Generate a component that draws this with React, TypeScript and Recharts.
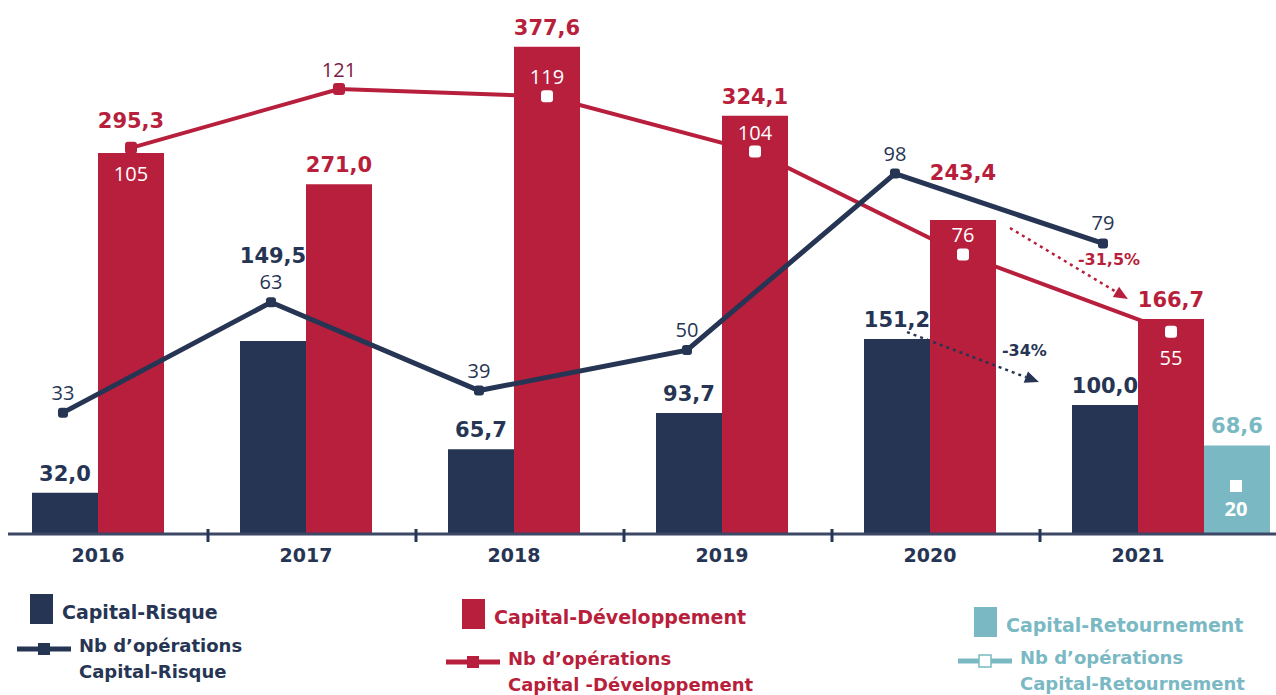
import React from 'react';
import { ComposedChart, Bar, Line, XAxis, YAxis, LabelList, ReferenceLine } from 'recharts';

// ---------- data ----------
const years = ['2016', '2017', '2018', '2019', '2020', '2021'];
const capitalRisque = [32.0, 149.5, 65.7, 93.7, 151.2, 100.0];
const capitalDeveloppement = [295.3, 271.0, 377.6, 324.1, 243.4, 166.7];
const capitalRetournement = [null, null, null, null, null, 68.6];
const nbOpsRisque = [33, 63, 39, 50, 98, 79];
const nbOpsDeveloppement = [105, 121, 119, 104, 76, 55];
const nbOpsRetournement = [null, null, null, null, null, 20];

// evolution annotations (x in category index units, y in number of operations)
const evolutions = [
  { label: '-31,5%', x1: 4.226, y1: 83.2, x2: 4.793, y2: 63.9 },
  { label: '-34%', x1: 3.731, y1: 54.9, x2: 4.365, y2: 41.3 },
];

// ---------- styles ----------
const NAVY = '#263553';
const CRIMSON = '#b81f3c';
const DARK_CRIMSON = '#7d1a45';
const TEAL = '#7ab9c3';
const AXIS = '#3c4766';
const FONT = '"DejaVu Sans", sans-serif';
const NUM_FONT = '"Open Sans", sans-serif';

const BAR = 66;
const crLabelLift = [0, 66, 0, 0, 0, 0];
const cdLabelLift = [13, 0, 0, 0, 28, 0];
const cdCountBelow = [true, false, false, false, false, true];
const cdInsideBar = [true, false, true, true, true, true];
const cdDotInside = [false, false, true, true, true, true];

const data = years.map((year, i) => ({
  year,
  idx: i,
  cr: capitalRisque[i],
  cd: capitalDeveloppement[i],
  ret: capitalRetournement[i],
  nbCr: nbOpsRisque[i],
  nbCd: nbOpsDeveloppement[i],
  nbRet: nbOpsRetournement[i],
}));

const fmt = (v: number) => v.toFixed(1).replace('.', ',');

const amountLabel = (color: string, lift: number[] | null) => (props: any) => {
  const { x, y, width, value, index } = props;
  if (value == null) return null;
  const extra = lift ? lift[index] || 0 : 0;
  return (
    <text
      key={`al-${index}`}
      x={x + width / 2}
      y={y - 12 - extra}
      textAnchor="middle"
      fill={color}
      fontFamily={FONT}
      fontWeight={700}
      fontSize={21}
    >
      {fmt(Number(value))}
    </text>
  );
};

const crCountLabel = (props: any) => {
  const { x, y, value, index } = props;
  if (value == null) return null;
  return (
    <text key={`cl-${index}`} x={x} y={y - 13} textAnchor="middle" fill={NAVY} fontFamily={NUM_FONT} fontSize={20}>
      {value}
    </text>
  );
};

const cdCountLabel = (props: any) => {
  const { x, y, value, index } = props;
  if (value == null) return null;
  const below = cdCountBelow[index];
  const fill = cdInsideBar[index] ? '#ffffff' : DARK_CRIMSON;
  return (
    <text
      key={`dl-${index}`}
      x={x}
      y={below ? y + 33 : y - 12}
      textAnchor="middle"
      fill={fill}
      fontFamily={NUM_FONT}
      fontSize={20}
    >
      {value}
    </text>
  );
};

const retCountLabel = (props: any) => {
  const { x, y, value, index } = props;
  if (value == null) return null;
  return (
    <text key={`rl-${index}`} x={x} y={y + 30} textAnchor="middle" fill="#ffffff" fontFamily={NUM_FONT} fontWeight={700} fontSize={20}>
      {value}
    </text>
  );
};

const crDot = (props: any) => {
  const { cx, cy, index } = props;
  if (cx == null || cy == null) return <g key={`crd-${index}`} />;
  return <rect key={`crd-${index}`} x={cx - 5} y={cy - 5} width={10} height={10} rx={3} fill={NAVY} />;
};

const cdDot = (props: any) => {
  const { cx, cy, index } = props;
  if (cx == null || cy == null) return <g key={`cdd-${index}`} />;
  const inside = cdDotInside[index];
  return (
    <rect
      key={`cdd-${index}`}
      x={cx - 6}
      y={cy - 6}
      width={12}
      height={12}
      rx={3}
      fill={inside ? '#ffffff' : CRIMSON}
    />
  );
};

const retDot = (props: any) => {
  const { cx, cy, index, value } = props;
  if (cx == null || cy == null || value == null) return <g key={`rd-${index}`} />;
  return <rect key={`rd-${index}`} x={cx - 6} y={cy - 6} width={12} height={12} fill="#ffffff" />;
};

const YearTick = (props: any) => {
  const { x, y, payload, index } = props;
  return (
    <g>
      <text x={x - BAR / 2} y={y + 28} textAnchor="middle" fill={NAVY} fontFamily={FONT} fontWeight={700} fontSize={19}>
        {payload.value}
      </text>
      {index < years.length - 1 && (
        <line x1={x + 77} x2={x + 77} y1={y - 5} y2={y + 8} stroke={NAVY} strokeWidth={3} />
      )}
    </g>
  );
};

const arrowShape = (color: string, label: string, labelDx: number, labelDy: number) => (props: any) => {
  const { x1, y1, x2, y2 } = props;
  if ([x1, y1, x2, y2].some((v) => v == null || Number.isNaN(v))) return <g />;
  const ang = Math.atan2(y2 - y1, x2 - x1);
  const head = 14;
  const half = 6;
  const bx = x2 - head * Math.cos(ang);
  const by = y2 - head * Math.sin(ang);
  const px = -Math.sin(ang) * half;
  const py = Math.cos(ang) * half;
  return (
    <g>
      <line x1={x1} y1={y1} x2={bx} y2={by} stroke={color} strokeWidth={2.5} strokeDasharray="3 4" />
      <polygon points={`${x2},${y2} ${bx + px},${by + py} ${bx - px},${by - py}`} fill={color} />
      <text x={x2 + labelDx} y={y2 + labelDy} fill={color} fontFamily={FONT} fontWeight={700} fontSize={16}>
        {label}
      </text>
    </g>
  );
};

const PAD = { left: 19, right: 1 };

const LegendSquare = ({ color, left, top, text }: any) => (
  <div style={{ position: 'absolute', left, top, display: 'flex', alignItems: 'center' }}>
    <div style={{ width: 23, height: 30, background: color }} />
    <span
      style={{
        marginLeft: 9,
        position: 'relative',
        top: 3,
        color,
        fontFamily: FONT,
        fontWeight: 700,
        fontSize: 19,
        whiteSpace: 'nowrap',
      }}
    >
      {text}
    </span>
  </div>
);

const LegendLine = ({ color, left, top, lines, hollow }: any) => (
  <div style={{ position: 'absolute', left, top }}>
    <svg width={54} height={14} style={{ position: 'absolute', left: 0, top: 8 }}>
      <line x1={0} x2={54} y1={7} y2={7} stroke={color} strokeWidth={5} />
      {hollow ? (
        <rect x={21} y={1} width={12} height={12} fill="#ffffff" stroke={color} strokeWidth={1.5} />
      ) : (
        <rect x={21} y={1} width={12} height={12} fill={color} />
      )}
    </svg>
    <div
      style={{
        position: 'absolute',
        left: 62,
        top: -1,
        color,
        fontFamily: FONT,
        fontWeight: 700,
        fontSize: 18,
        lineHeight: '26px',
        whiteSpace: 'nowrap',
      }}
    >
      {lines.map((l: string, i: number) => (
        <div key={i}>{l}</div>
      ))}
    </div>
  </div>
);

export default function App() {
  return (
    <div style={{ position: 'absolute', left: 0, top: 0, width: 1276, height: 695, overflow: 'hidden', background: '#ffffff' }}>
      <ComposedChart
        width={1276}
        height={580}
        data={data}
        margin={{ top: 0, right: 0, bottom: 0, left: 8 }}
        barGap={0}
        barCategoryGap={0}
      >
        <XAxis
          xAxisId="a_main"
          dataKey="year"
          padding={PAD}
          height={46}
          tickSize={0}
          tickMargin={0}
          tickLine={false}
          axisLine={{ stroke: AXIS, strokeWidth: 3 }}
          tick={<YearTick />}
          interval={0}
        />
        <XAxis xAxisId="b_num" dataKey="idx" type="number" domain={[-0.5, 5.5]} allowDataOverflow hide height={0} padding={PAD} />
        <XAxis xAxisId="c_cr" dataKey="idx" type="number" domain={[-0.173, 5.827]} allowDataOverflow hide height={0} padding={PAD} />
        <XAxis xAxisId="d_ret" dataKey="idx" type="number" domain={[-0.8125, 5.1875]} allowDataOverflow hide height={0} padding={PAD} />
        <YAxis yAxisId="amount" hide domain={[0, 413.8]} allowDataOverflow />
        <YAxis yAxisId="count" hide domain={[0, 145.2]} allowDataOverflow />
        <YAxis yAxisId="retCount" hide domain={[0, 222.5]} allowDataOverflow />

        <Bar xAxisId="a_main" yAxisId="amount" dataKey="cr" fill={NAVY} barSize={BAR} isAnimationActive={false}>
          <LabelList dataKey="cr" content={amountLabel(NAVY, crLabelLift)} />
        </Bar>
        <Bar xAxisId="a_main" yAxisId="amount" dataKey="cd" fill={CRIMSON} barSize={BAR} isAnimationActive={false}>
          <LabelList dataKey="cd" content={amountLabel(CRIMSON, cdLabelLift)} />
        </Bar>
        <Bar xAxisId="a_main" yAxisId="amount" dataKey="ret" fill={TEAL} barSize={BAR} isAnimationActive={false}>
          <LabelList dataKey="ret" content={amountLabel(TEAL, null)} />
        </Bar>

        <Line
          xAxisId="b_num"
          yAxisId="count"
          dataKey="nbCd"
          stroke={CRIMSON}
          strokeWidth={4}
          dot={cdDot}
          activeDot={false}
          isAnimationActive={false}
        >
          <LabelList dataKey="nbCd" content={cdCountLabel} />
        </Line>
        <Line
          xAxisId="c_cr"
          yAxisId="count"
          dataKey="nbCr"
          stroke={NAVY}
          strokeWidth={5}
          dot={crDot}
          activeDot={false}
          isAnimationActive={false}
        >
          <LabelList dataKey="nbCr" content={crCountLabel} />
        </Line>
        <Line
          xAxisId="d_ret"
          yAxisId="retCount"
          dataKey="nbRet"
          stroke={TEAL}
          strokeWidth={4}
          dot={retDot}
          activeDot={false}
          isAnimationActive={false}
        >
          <LabelList dataKey="nbRet" content={retCountLabel} />
        </Line>

        <ReferenceLine
          xAxisId="b_num"
          yAxisId="count"
          segment={[
            { x: evolutions[0].x1, y: evolutions[0].y1 },
            { x: evolutions[0].x2, y: evolutions[0].y2 },
          ]}
          shape={arrowShape(CRIMSON, evolutions[0].label, -50, -34)}
        />
        <ReferenceLine
          xAxisId="b_num"
          yAxisId="count"
          segment={[
            { x: evolutions[1].x1, y: evolutions[1].y1 },
            { x: evolutions[1].x2, y: evolutions[1].y2 },
          ]}
          shape={arrowShape(NAVY, evolutions[1].label, -37, -26)}
        />
      </ComposedChart>

      <LegendSquare color={NAVY} left={30} top={594} text="Capital-Risque" />
      <LegendLine color={NAVY} left={17} top={634} lines={['Nb d\u2019opérations', 'Capital-Risque']} />
      <LegendSquare color={CRIMSON} left={462} top={599} text="Capital-Développement" />
      <LegendLine color={CRIMSON} left={446} top={647} lines={['Nb d\u2019opérations', 'Capital -Développement']} />
      <LegendSquare color={TEAL} left={974} top={607} text="Capital-Retournement" />
      <LegendLine color={TEAL} left={958} top={646} lines={['Nb d\u2019opérations', 'Capital-Retournement']} hollow />
    </div>
  );
}
